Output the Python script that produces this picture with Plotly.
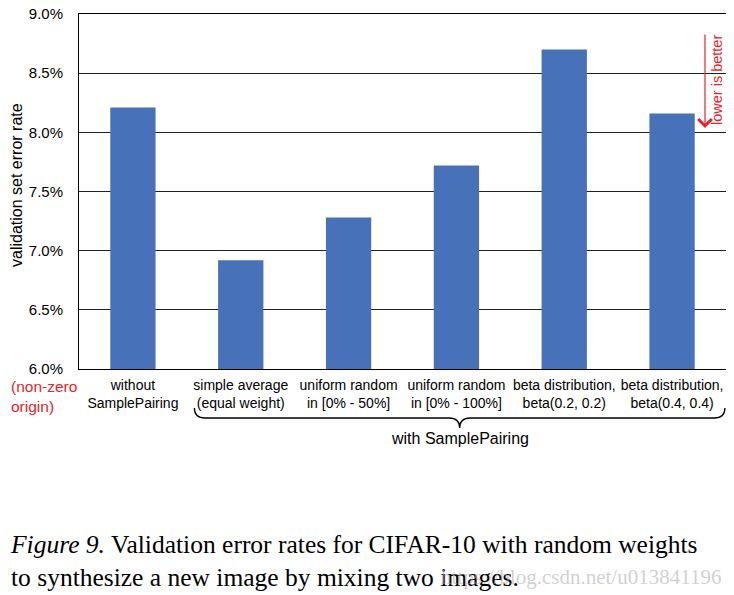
import plotly.graph_objects as go

categories = [
    "without<br>SamplePairing",
    "simple average<br>(equal weight)",
    "uniform random<br>in [0% - 50%]",
    "uniform random<br>in [0% - 100%]",
    "beta distribution,<br>beta(0.2, 0.2)",
    "beta distribution,<br>beta(0.4, 0.4)",
]
error_rates = [8.21, 6.92, 7.28, 7.72, 8.70, 8.16]
y_ticks = [6.0, 6.5, 7.0, 7.5, 8.0, 8.5, 9.0]
y_tick_labels = ["6.0%", "6.5%", "7.0%", "7.5%", "8.0%", "8.5%", "9.0%"]

# the page body adds an 8px offset; compensate so the picture matches
OFF = 8
W, H = 734 - OFF, 595 - OFF
L, R, T, B = 79 - OFF, 8, 14 - OFF, 226

fig = go.Figure()
fig.add_trace(go.Bar(
    x=list(range(len(categories))), y=error_rates,
    marker=dict(color="#4771B9", line=dict(width=0)),
    width=0.42,
))

fig.update_layout(
    width=W, height=H,
    margin=dict(l=L, r=R, t=T, b=B, pad=0, autoexpand=False),
    paper_bgcolor="white", plot_bgcolor="white",
    showlegend=False,
    font=dict(family="Liberation Sans, Arial", color="black"),
    xaxis=dict(
        range=[-0.5, 5.5], tickmode="array",
        tickvals=list(range(len(categories))), ticktext=categories,
        tickfont=dict(size=14), showgrid=False, ticks="",
        showline=True, linecolor="black", linewidth=1, mirror=True,
        zeroline=False, ticklabelstandoff=3, automargin=False,
        ticklabeloverflow="allow",
    ),
    yaxis=dict(
        range=[6.0, 9.0], tickmode="array", tickvals=y_ticks,
        ticktext=y_tick_labels, tickfont=dict(size=15),
        showgrid=True, gridcolor="#222", gridwidth=1,
        showline=True, linecolor="black", linewidth=1, mirror=True,
        zeroline=False, ticks="", ticklabelstandoff=12, automargin=False,
        ticklabeloverflow="allow",
    ),
)

PW, PH = W - L - R, H - T - B
def px_x(pix):  # reference-picture pixel -> paper x
    return (pix - OFF - L) / PW
def py(pix):    # reference-picture pixel -> paper y
    return -(pix - OFF - (H - B)) / PH

# y axis title
fig.add_annotation(
    text="validation set error rate", xref="paper", yref="paper",
    x=px_x(16), y=py(185), textangle=-90, showarrow=False,
    xanchor="center", yanchor="middle", font=dict(size=16),
)

# red note under the y axis
fig.add_annotation(
    text="(non-zero<br>origin)", xref="paper", yref="paper",
    x=px_x(9), y=py(376),
    xanchor="left", yanchor="top", align="left", showarrow=False,
    font=dict(size=15.5, color="#e8242a"),
)

# "lower is better" arrow and text
fig.add_annotation(
    xref="paper", yref="paper", x=px_x(705), y=py(128),
    ax=0, ay=-95, axref="pixel", ayref="pixel",
    text="", showarrow=True, arrowhead=4, arrowsize=2.2, arrowwidth=1.2, arrowcolor="#e8242a",
)
fig.add_annotation(
    text="lower is better", xref="paper", yref="paper",
    x=px_x(717), y=py(80),
    textangle=-90, showarrow=False, font=dict(size=14.5, color="#e8242a"),
    xanchor="center", yanchor="middle",
)

# curly brace grouping the SamplePairing variants
x0, x1 = 0.57, 5.49
xc = (x0 + x1) / 2
top, mid, tip = py(408), py(418), py(428)
d = 0.1
path = (f"M {x0},{top} Q {x0},{mid} {x0 + d},{mid} L {xc - d},{mid} "
        f"Q {xc},{mid} {xc},{tip} Q {xc},{mid} {xc + d},{mid} "
        f"L {x1 - d},{mid} Q {x1},{mid} {x1},{top}")
fig.add_shape(type="path", path=path, xref="x", yref="paper",
              line=dict(color="black", width=1.3))
fig.add_annotation(
    text="with SamplePairing", xref="x", yref="paper", x=xc, y=py(438),
    xanchor="center", yanchor="middle", showarrow=False, font=dict(size=16),
)

# caption
fig.add_annotation(
    text="<i>Figure 9.</i> Validation error rates for CIFAR-10 with random weights<br>"
         "to synthesize a new image by mixing two images.",
    xref="paper", yref="paper", x=px_x(8), y=py(528),
    xanchor="left", yanchor="top", align="left", showarrow=False,
    font=dict(family="Liberation Serif, Times New Roman", size=25.5, color="black"),
)
fig.add_annotation(
    text="https://blog.csdn.net/u013841196", xref="paper", yref="paper",
    x=px_x(723), y=py(577), xanchor="right", yanchor="middle",
    showarrow=False,
    font=dict(family="Liberation Serif, Times New Roman", size=21, color="rgba(170,170,170,0.55)"),
)

fig.write_html("out.html")
